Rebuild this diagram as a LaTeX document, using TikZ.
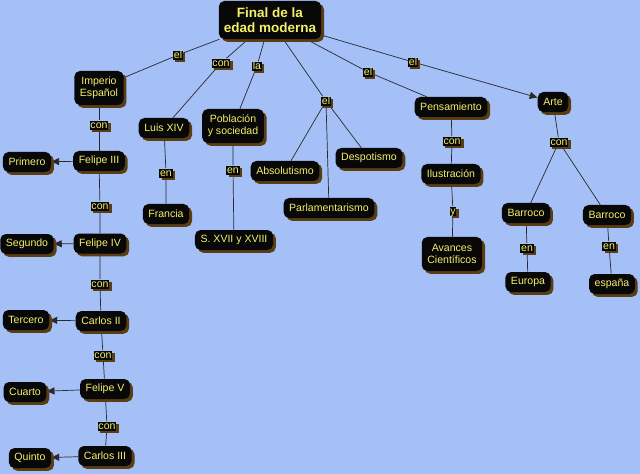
\documentclass[tikz,border=0pt]{standalone}
\usepackage{fontspec}
\setmainfont{Liberation Sans}
\usetikzlibrary{arrows.meta,shadows,backgrounds}
\definecolor{sky}{HTML}{A4C0F7}
\definecolor{ink}{HTML}{080808}
\definecolor{lemon}{HTML}{F4F06A}
\definecolor{umber}{HTML}{5A3D12}
\definecolor{wire}{HTML}{2A2A2A}
\tikzset{
  concept/.style={rectangle, rounded corners=4pt, fill=ink, text=lemon,
                  inner xsep=4pt, inner ysep=2pt, minimum height=0.5cm, align=center,
                  font=\fontsize{7.5}{8.6}\selectfont,
                  drop shadow={shadow xshift=2pt, shadow yshift=-2pt, opacity=1, fill=umber}},
  twoline/.style={concept, minimum height=0.85cm},
  topic/.style={concept, font=\fontsize{9.6}{10.6}\selectfont\bfseries,
                inner xsep=3.6pt, minimum height=0.95cm},
  linker/.style={rectangle, fill=ink, text=lemon, inner xsep=0.6pt, inner ysep=0.3pt,
                 text height=5.3pt, text depth=0.5pt, font=\fontsize{7.5}{8.6}\selectfont,
                 drop shadow={shadow xshift=1.6pt, shadow yshift=-1.6pt, opacity=1, fill=umber}},
  link/.style={draw=wire, line width=0.5pt},
  linkarrow/.style={link, -{Triangle[length=5.5pt,width=5pt]}}
}
\begin{document}
\begin{tikzpicture}[x=0.025cm, y=-0.025cm]
\useasboundingbox (0,0) rectangle (640,474);
% concepts
\node[topic] (title) at (270,20) {Final de la\\edad moderna};
\node[twoline] (imperio) at (99,88) {Imperio\\Español};
\node[concept] (felipe3) at (99,161) {Felipe III};
\node[concept] (primero) at (27,162) {Primero};
\node[concept] (felipe4) at (100,243.5) {Felipe IV};
\node[concept] (segundo) at (27,244) {Segundo};
\node[concept] (carlos2) at (101,321) {Carlos II};
\node[concept] (tercero) at (26,320) {Tercero};
\node[concept] (felipe5) at (105,389) {Felipe V};
\node[concept] (cuarto) at (25,392) {Cuarto};
\node[concept] (carlos3) at (105,456) {Carlos III};
\node[concept] (quinto) at (30,458) {Quinto};
\node[concept] (luis) at (164,128) {Luis XIV};
\node[concept] (francia) at (166,214) {Francia};
\node[twoline] (poblacion) at (233,126) {Población\\y sociedad};
\node[concept] (siglos) at (234,240) {S. XVII y XVIII};
\node[concept] (absolutismo) at (285,171) {Absolutismo};
\node[concept] (despotismo) at (369,158) {Despotismo};
\node[concept] (parlamento) at (329,208) {Parlamentarismo};
\node[concept] (pensamiento) at (451,107) {Pensamiento};
\node[concept] (ilustracion) at (451,174) {Ilustración};
\node[twoline] (avances) at (452,254) {Avances\\Científicos};
\node[concept] (arte) at (553,102) {Arte};
\node[concept] (barrocoA) at (526,213) {Barroco};
\node[concept] (barrocoB) at (607,215) {Barroco};
\node[concept] (europa) at (528,282) {Europa};
\node[concept] (espana) at (612,284) {españa};
% linking words
\node[linker] (elImp) at (178,55) {el};
\node[linker] (conLuis) at (221,63) {con};
\node[linker] (laPob) at (257,66) {la};
\node[linker] (elReg) at (326,101) {el};
\node[linker] (elPen) at (368,72) {el};
\node[linker] (elArte) at (413,62) {el};
\node[linker] (conA) at (99,125) {con};
\node[linker] (conB) at (100,206) {con};
\node[linker] (conC) at (100,284) {con};
\node[linker] (conD) at (103,355) {con};
\node[linker] (conE) at (107,426) {con};
\node[linker] (enFra) at (166,173) {en};
\node[linker] (enSig) at (233,170) {en};
\node[linker] (conIlu) at (452,141) {con};
\node[linker] (yAva) at (453,211) {y};
\node[linker] (conBar) at (559,142) {con};
\node[linker] (enEur) at (527,248) {en};
\node[linker] (enEsp) at (609,246) {en};

\begin{scope}[on background layer]
\fill[sky] (0,0) rectangle (640,474);
\draw[link] (title) -- (elImp) -- (imperio);
\draw[link] (title) -- (conLuis) -- (luis);
\draw[link] (title) -- (laPob) -- (poblacion);
\draw[link] (title) -- (elReg);
\draw[link] (elReg) -- (absolutismo);
\draw[link] (elReg) -- (parlamento);
\draw[link] (elReg) -- (despotismo);
\draw[link] (title) -- (elPen) -- (pensamiento);
\draw[link] (title) -- (elArte);
\draw[linkarrow] (elArte) -- (arte);
\draw[link] (imperio) -- (conA) -- (felipe3);
\draw[link] (felipe3) -- (conB) -- (felipe4);
\draw[link] (felipe4) -- (conC) -- (carlos2);
\draw[link] (carlos2) -- (conD) -- (felipe5);
\draw[link] (felipe5) -- (conE) -- (carlos3);
\draw[linkarrow] (felipe3) -- (primero);
\draw[linkarrow] (felipe4) -- (segundo);
\draw[linkarrow] (carlos2) -- (tercero);
\draw[linkarrow] (felipe5) -- (cuarto);
\draw[linkarrow] (carlos3) -- (quinto);
\draw[link] (luis) -- (enFra) -- (francia);
\draw[link] (poblacion) -- (enSig) -- (siglos);
\draw[link] (pensamiento) -- (conIlu) -- (ilustracion);
\draw[link] (ilustracion) -- (yAva) -- (avances);
\draw[link] (arte) -- (conBar);
\draw[link] (conBar) -- (barrocoA);
\draw[link] (conBar) -- (barrocoB);
\draw[link] (barrocoA) -- (enEur) -- (europa);
\draw[link] (barrocoB) -- (enEsp) -- (espana);
\end{scope}
\end{tikzpicture}
\end{document}
